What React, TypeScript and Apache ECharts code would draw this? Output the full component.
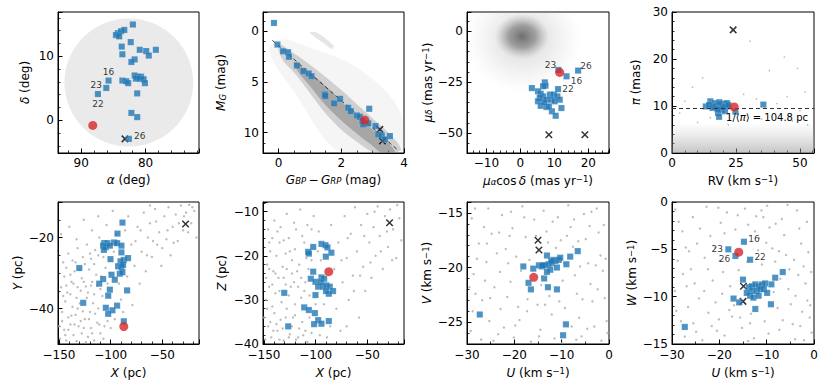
import React, { useEffect, useRef } from 'react';
import * as echarts from 'echarts';

// ---------------- DATA ----------------
// Panel 1: alpha / delta (deg)
const p1Members = [[81.97,14.95],[84.3,13.6],[83.8,13.9],[83.3,14.1],[84.6,13.3],[84.1,13.1],[82.3,12.2],[83.7,11.5],[80.9,11.0],[79.9,10.8],[78.4,11.0],[79.5,10.1],[83.6,10.3],[81.7,9.5],[82.2,9.1],[81.7,7.0],[81.2,6.8],[80.7,6.8],[81.5,6.5],[80.9,6.5],[80.3,6.4],[80.1,5.8],[83.6,6.2],[83.0,6.1],[82.7,5.8],[81.3,4.2],[82.2,1.15],[81.3,0.5]];
const p1Labeled = [[85.75,6.2,'16'],[86.1,5.05,'23'],[87.4,4.1,'22'],[82.6,-2.9,'26']];
const p1Red = [[88.2,-0.8]];
const p1Cross = [[83.2,-2.9]];
const p1FieldCircle = [[82.6,5.9,10,10]]; // centre alpha, delta, radius alpha, radius delta

// Panel 2: colour-magnitude diagram
const p2Members = [[-0.15,-0.82],[-0.04,1.31],[0.14,1.97],[0.30,2.07],[0.33,2.52],[0.58,3.38],[0.79,3.93],[0.96,4.16],[1.05,4.43],[1.47,6.23],[1.49,6.39],[1.77,7.11],[1.96,6.66],[2.22,7.54],[2.30,7.87],[2.50,8.30],[2.59,8.43],[2.67,8.85],[2.70,9.18],[2.86,9.08],[2.89,7.64],[3.09,9.34],[3.18,10.16],[3.29,10.26],[3.55,10.33],[3.39,10.66]];
const p2Red = [[2.75,8.75]];
const p2Cross = [[3.23,9.67],[3.31,10.82]];
const p2Isochrone = [[-0.2,0.9],[3.8,11.7]];
const p2FieldHalo = [[0.0,0.8],[1.0,1.6],[2.5,3.6],[3.8,7.5],[3.95,12],[2.0,12],[0.5,6],[-0.3,2]];
const p2FieldOuter = [[0.0,1.3],[0.5,2.2],[1.0,3.3],[1.5,4.5],[2.0,5.8],[2.5,7.2],[3.0,8.6],[3.5,10.0],[3.9,11.6],[3.6,12.0],[3.0,11.9],[2.5,10.9],[2.0,9.7],[1.5,8.1],[1.0,6.1],[0.5,4.1],[0.1,2.7]];
const p2FieldInner = [[0.5,3.0],[1.0,4.1],[1.5,5.4],[2.0,6.9],[2.5,8.4],[3.0,9.7],[3.5,11.0],[3.7,11.95],[3.3,12.0],[3.0,11.3],[2.5,10.1],[2.0,8.8],[1.5,7.3],[1.0,5.4],[0.6,3.9]];
const p2FieldGiants = [[1.0,0.15],[1.2,0.1],[1.75,1.4],[1.7,1.75],[1.45,1.2]];

// Panel 3: proper motions (mas/yr)
const p3Members = [[3.4,-27.9],[7.2,-25.1],[7.4,-26.7],[6.7,-27.0],[5.2,-29.5],[6.0,-30.7],[6.7,-32.0],[5.7,-32.8],[8.7,-31.1],[9.9,-31.1],[10.9,-32.0],[11.6,-33.6],[7.7,-33.6],[9.1,-33.6],[10.1,-34.4],[5.2,-34.4],[6.0,-36.6],[7.7,-37.2],[9.3,-39.3],[10.4,-41.5],[12.1,-37.7],[8.4,-36.9],[7.0,-34.9]];
const p3Labeled = [[11.2,-19.0,'23'],[13.6,-22.1,'16'],[17.0,-19.3,'26'],[11.1,-28.4,'22']];
const p3Red = [[11.6,-20.2]];
const p3Cross = [[8.4,-50.8],[19.0,-50.8]];
const p3FieldBlobs = [[1.0,-4.0,17,26],[0.5,-2.5,8,11]]; // centre x, y, radius x, radius y

// Panel 4: parallax vs RV
const p4Members = [[13.2,9.9],[15.0,11.0],[16.7,10.6],[17.4,10.1],[15.8,9.6],[18.9,9.6],[19.2,10.3],[20.5,10.5],[21.5,10.6],[19.4,9.2],[18.0,8.5],[18.4,7.7],[21.3,9.9],[20.7,8.9],[24.8,8.8],[35.7,10.3],[16.5,9.8],[17.8,9.3],[20.0,9.8],[22.0,10.2],[18.5,10.8],[14.5,10.2]];
const p4Red = [[24.3,9.8]];
const p4Cross = [[23.9,26.2]];
const p4MeanDistancePc = 104.8;
const p4FieldSparse = [[30.5,23.8],[43.9,20.4],[49,18],[38,17.5],[12,16],[8,14],[52,13],[45,12],[28,12.5],[5,11],[33,11.5],[41,10.5],[50,9],[3,8.5],[15,7.5],[27,7],[35,7.2],[47,6.8],[10,6.5],[53,6],[22,6]];
const p4FieldBand = [[0,0],[55.5,0],[55.5,6.5],[0,6.5]];

// Panel 5: X / Y (pc)
const p5Members = [[-88.6,-15.8],[-93.4,-18.9],[-106.3,-21.6],[-103.1,-21.6],[-96.7,-21.4],[-93.8,-21.6],[-107.3,-22.3],[-104.7,-22.7],[-100.8,-22.3],[-89.6,-22.3],[-106.6,-23.5],[-89.6,-24.2],[-100.2,-26.1],[-87.3,-26.3],[-83.2,-25.8],[-90.5,-26.7],[-92.8,-28.1],[-89.6,-28.3],[-88.0,-27.7],[-91.2,-30.2],[-88.6,-29.8],[-130.4,-28.6],[-99.2,-30.5],[-96.0,-31.9],[-107.3,-31.7],[-111.1,-33.0],[-100.8,-34.7],[-84.1,-34.9],[-102.4,-36.4],[-93.8,-39.2],[-104.7,-39.8],[-98.3,-40.5],[-102.4,-41.5],[-87.3,-43.6],[-126.6,-38.4]];
const p5Red = [[-87.3,-45.1]];
const p5Cross = [[-27.5,-16.2]];
const p5Field = [[-149,-48.5],[-145,-46],[-143,-49],[-139,-44.5],[-136,-47.5],[-133,-49.2],[-131,-45],[-128,-47],[-125,-43],[-122,-48],[-119,-45.5],[-116,-49],[-113,-44],[-110,-47],[-106,-45],[-147,-41],[-144,-38],[-141,-42.5],[-137,-39.5],[-134,-41.8],[-130,-38.5],[-127,-40.8],[-123,-37],[-120,-41],[-117,-38.5],[-112,-40],[-108,-36.5],[-148,-34],[-145,-31],[-142,-35.5],[-138,-32.5],[-135,-29.5],[-132,-34],[-128,-31.5],[-124,-33.8],[-121,-29],[-118,-32.5],[-114,-30.5],[-110,-34.5],[-105,-28.5],[-146,-27],[-141,-24.5],[-137,-26.5],[-132,-23],[-127,-25.5],[-123,-22],[-119,-26],[-115,-23.5],[-111,-20],[-107,-25.5],[-148,-19],[-140,-17],[-133,-20.5],[-126,-15],[-118,-18],[-112,-14],[-104,-16.5],[-98,-12.5],[-95,-19],[-92,-33],[-90,-37.5],[-96,-43],[-84,-31],[-80,-22],[-79,-39],[-77,-28],[-74,-17],[-72,-33],[-70,-24],[-68,-13],[-66,-29.5],[-64,-20],[-62,-16],[-60,-25.5],[-57,-12],[-55,-22],[-53,-18.5],[-51,-28],[-48,-14],[-46,-20.5],[-44,-11.5],[-42,-25],[-40,-17],[-37,-13.5],[-35,-21],[-32,-11],[-30,-18],[-27,-13],[-24,-10.8],[-22,-16],[-19,-12.5],[-17,-20],[-86,-18],[-83,-14],[-101,-30],[-97,-24],[-88,-41],
  [-150,-45],[-147,-43.5],[-144,-47.5],[-141,-46],[-138,-42],[-135,-44.5],[-132,-40],[-129,-43.5],[-126,-45.5],[-124,-49.5],[-121,-43],[-118,-47],[-115,-41.5],[-111,-44.5],[-107,-48.5],[-103,-43.5],[-100,-45.5],[-146,-36.5],[-143,-33.5],[-139,-36],[-136,-33],[-133,-37],[-129,-35],[-126,-32.5],[-122,-35.5],[-119,-33.5],[-116,-36],[-113,-33.5],[-109,-31],[-103,-33],[-143,-28.5],[-139,-30.5],[-134,-27],[-130,-29],[-125,-27.5],[-120,-24.5],[-116,-27.5],[-112,-25],[-108,-22.5],[-76,-21],[-71,-18],[-65,-25],[-59,-21],[-56,-15.5],[-50,-23],[-45,-18],[-39,-21.5],[-34,-16],[-29,-14],[-25,-18.5],[-21,-11.5],[-62,-11]];

// Panel 6: X / Z (pc)
const p6Members = [[-107.3,-19.1],[-106.6,-19.5],[-102.4,-18.0],[-94.4,-17.3],[-90.5,-17.6],[-88.6,-18.1],[-84.8,-19.3],[-90.2,-20.2],[-102.4,-23.6],[-104.7,-25.2],[-100.2,-25.9],[-94.4,-24.9],[-91.8,-25.2],[-97.6,-27.0],[-92.8,-27.0],[-89.6,-26.7],[-86.4,-27.0],[-83.2,-28.0],[-87.3,-28.6],[-100.2,-28.9],[-130.4,-28.4],[-111.1,-31.7],[-106.6,-32.3],[-100.8,-33.0],[-97.6,-34.6],[-101.5,-35.5],[-94.4,-35.4],[-87.3,-34.8],[-126.6,-36.0],[-95,-26],[-90,-28]];
const p6Red = [[-87.3,-23.6]];
const p6Cross = [[-28.5,-12.5]];
const p6Field = [[-149,-39],[-146,-36],[-143,-38.5],[-140,-33],[-137,-37],[-134,-34.5],[-131,-39.2],[-128,-32],[-125,-37.8],[-122,-34],[-119,-39],[-116,-36.5],[-112,-38],[-108,-39.5],[-104,-37.5],[-148,-30],[-145,-27],[-142,-31.5],[-139,-28.5],[-136,-25],[-133,-30.5],[-129,-26.5],[-126,-29],[-123,-24],[-120,-31],[-117,-27],[-114,-29.5],[-110,-26],[-106,-29],[-147,-22],[-144,-19],[-141,-23.5],[-138,-20],[-135,-17],[-132,-22.5],[-129,-19.5],[-126,-16],[-123,-21],[-120,-18.5],[-116,-22],[-113,-15.5],[-109,-20.5],[-146,-14],[-140,-12],[-134,-13.5],[-128,-10.5],[-121,-12.5],[-115,-9.5],[-108,-13],[-102,-11],[-97,-14.5],[-95,-21],[-92,-31],[-89,-38.5],[-85,-13],[-82,-23],[-80,-32],[-78,-17],[-76,-37],[-74,-26],[-72,-11],[-70,-20.5],[-68,-30],[-66,-15],[-64,-24.5],[-62,-9],[-60,-19],[-58,-34],[-56,-13],[-54,-22.5],[-52,-28],[-50,-10.5],[-48,-17],[-46,-25],[-44,-13.5],[-42,-20],[-40,-8.8],[-38,-15.5],[-35,-23],[-33,-11],[-30,-18],[-28,-9.5],[-25,-14],[-22,-20.5],[-19,-11.5],[-17,-16.5],[-100,-31],[-96,-38],
  [-150,-34],[-147,-32],[-144,-35],[-141,-37],[-138,-35.5],[-135,-39],[-132,-36.5],[-129,-34],[-126,-38.5],[-123,-36],[-120,-33.5],[-117,-38.5],[-113,-35],[-110,-37],[-106,-34],[-148,-25],[-145,-23],[-142,-26.5],[-139,-24],[-135,-28],[-131,-25],[-128,-23],[-124,-27],[-121,-26],[-118,-23.5],[-114,-25],[-111,-28],[-107,-23],[-104,-21],[-145,-17],[-142,-16],[-137,-14.5],[-131,-16.5],[-125,-19],[-119,-14],[-111,-17],[-104,-14],[-98,-19],[-75,-21],[-69,-16],[-63,-28],[-57,-24.5],[-53,-15.5],[-47,-21.5],[-43,-10],[-37,-19],[-31,-14.5],[-26,-21],[-21,-8.5],[-70,-36],[-86,-36]];

// Panel 7: U / V (km/s)
const p7Members = [[-27.3,-24.3],[-18.1,-19.9],[-16.0,-20.1],[-17.0,-21.4],[-16.5,-22.0],[-13.7,-21.0],[-12.9,-21.8],[-11.0,-22.0],[-9.0,-19.7],[-6.6,-18.5],[-8.2,-19.0],[-13.1,-18.9],[-14.8,-19.8],[-14.2,-19.9],[-13.5,-19.8],[-12.8,-19.7],[-12.1,-19.6],[-11.7,-19.3],[-11.3,-19.4],[-10.6,-19.3],[-10.3,-19.1],[-12.4,-20.2],[-13.1,-20.4],[-11.0,-20.0],[-9.1,-25.2],[-9.7,-26.2],[-14.0,-19.8],[-12.2,-19.4]];
const p7Red = [[-15.9,-20.9]];
const p7Cross = [[-15.0,-17.5],[-14.8,-18.4]];
const p7Field = [[-29,-15.5],[-27.5,-17.8],[-28.6,-20.6],[-26.8,-23],[-29.2,-25.8],[-27,-26.6],[-25.5,-14.6],[-24.8,-16.9],[-25.9,-19.5],[-24.2,-21.8],[-25.3,-24.9],[-23.4,-26.1],[-22.6,-15.2],[-21.8,-18.3],[-23,-20.4],[-21.5,-22.7],[-22.2,-25.5],[-20.4,-16.4],[-19.6,-19],[-20.8,-21.3],[-19.2,-23.6],[-20.1,-26.4],[-18.3,-14.4],[-17.6,-17.2],[-18.9,-24.8],[-17.2,-22.9],[-16.5,-26.8],[-15.8,-15.6],[-15.1,-23.4],[-14.5,-25.7],[-13.8,-14.8],[-13.2,-16.7],[-12.6,-22.6],[-12.1,-24.3],[-11.5,-26.5],[-10.8,-15.4],[-10.2,-17.5],[-9.8,-21.2],[-9.3,-23.7],[-8.6,-14.3],[-8.1,-16.3],[-7.6,-18.1],[-7.2,-20.7],[-6.8,-22.4],[-6.3,-24.6],[-5.8,-26.3],[-5.3,-15.1],[-4.9,-17.4],[-4.4,-19.6],[-3.9,-21.5],[-3.5,-23.1],[-3.1,-25.4],[-2.6,-14.6],[-2.2,-16.8],[-1.8,-18.9],[-1.3,-20.3],[-0.9,-22.8],[-0.5,-24.9],[-1.6,-26.7],[-4.1,-16.2],[-6.5,-17.6],[-11.2,-18.2],[-14.3,-21.6],[-16.8,-19.3],[-21,-17.1],[-26.2,-21.2],[-28.2,-22.4],[-23.7,-18.7],[-9.5,-19.6],[-7.9,-25.4],[-2.8,-19.8],[-12.9,-17.7],
  [-28.3,-14.6],[-26.4,-16.3],[-27.9,-19.2],[-25.1,-22.8],[-28.8,-24],[-24.4,-26.7],[-23.2,-16.8],[-22.9,-23.8],[-20.7,-14.9],[-21.3,-19.6],[-19.8,-25.3],[-18.6,-20.3],[-17.9,-15.4],[-15.4,-17.1],[-14.8,-26.3],[-13.5,-23.4],[-11.9,-15.8],[-10.5,-23.1],[-9.9,-26.9],[-8.9,-17.1],[-7.4,-15.6],[-6.1,-19.9],[-5.6,-22.9],[-4.6,-25.6],[-3.7,-14.9],[-2.4,-22],[-1.1,-16.1],[-0.7,-19.2],[-0.3,-26],[-6.9,-26.6],[-17.3,-24],[-25.8,-17.8],[-29.5,-21.8]];

// Panel 8: U / W (km/s)
const p8Members = [[-15.0,-8.2],[-6.6,-7.4],[-8.2,-8.0],[-9.0,-8.7],[-9.1,-10.8],[-12.4,-11.3],[-17.0,-10.2],[-27.3,-13.2],[-13.8,-9.0],[-13.1,-8.9],[-12.4,-8.7],[-11.7,-8.9],[-11.0,-8.7],[-10.3,-8.6],[-13.1,-9.4],[-12.1,-9.4],[-11.3,-9.2],[-10.6,-9.2],[-13.5,-9.9],[-12.8,-10.1],[-11.7,-9.9],[-14.2,-9.6],[-9.9,-9.6],[-15.8,-10.6]];
const p8Labeled = [[-14.8,-4.2,'16'],[-18.1,-5.0,'23'],[-16.6,-5.7,'26'],[-13.5,-6.1,'22']];
const p8Red = [[-15.9,-5.3]];
const p8Cross = [[-14.9,-8.9],[-15.0,-10.5]];
const p8Field = [[-29.3,-0.8],[-27.8,-3.1],[-28.8,-6.2],[-26.9,-8.9],[-29.1,-11.5],[-27.3,-14.2],[-25.6,-1.6],[-24.7,-4.4],[-26,-7.1],[-24.3,-10.2],[-25.5,-12.8],[-23.6,-14.6],[-22.7,-0.5],[-21.9,-3.6],[-23.1,-5.9],[-21.4,-8.3],[-22.3,-11.7],[-20.5,-13.6],[-19.7,-2.2],[-20.9,-4.8],[-19.2,-7.4],[-20.1,-12.4],[-18.4,-1.1],[-17.7,-8.9],[-18.9,-14.1],[-17.3,-12.1],[-16.6,-2.9],[-15.9,-7.2],[-15.2,-13.3],[-14.6,-0.7],[-13.9,-2.4],[-13.3,-11.8],[-12.7,-14.4],[-12.2,-1.5],[-11.6,-3.8],[-11,-6.6],[-10.4,-12.6],[-9.9,-0.4],[-9.4,-2.7],[-8.8,-4.9],[-8.2,-6.3],[-7.7,-11.2],[-7.3,-13.5],[-6.8,-1.8],[-6.3,-3.5],[-5.9,-5.6],[-5.4,-9.2],[-4.9,-10.8],[-4.5,-12.9],[-4,-14.5],[-3.6,-0.9],[-3.1,-2.8],[-2.7,-4.4],[-2.2,-6.8],[-1.8,-8.6],[-1.4,-10.4],[-0.9,-12.2],[-0.5,-13.8],[-1.2,-5.3],[-3.3,-7.7],[-5.2,-7.1],[-8.5,-9.5],[-11.8,-5.1],[-14.1,-6.3],[-16.9,-10.9],[-19.4,-9.7],[-23.2,-9.4],[-26.4,-5.2],[-28.1,-12.6],[-10.7,-1.6],[-7.1,-8.1],[-2.5,-11.6],[-13.5,-12.8],
  [-28.6,-2.1],[-27.1,-4.8],[-29.4,-9.4],[-26.6,-11.1],[-24.9,-13.7],[-24.1,-2.8],[-25.2,-8.6],[-22.4,-7.1],[-21.6,-13.1],[-20.2,-0.6],[-18.9,-3.3],[-19.9,-6.2],[-17.9,-11.4],[-16.1,-1.4],[-15.6,-12.2],[-13.9,-14.7],[-12.5,-3.1],[-11.1,-0.9],[-10.1,-4.3],[-9.6,-13.9],[-8.1,-2.3],[-7.4,-5.2],[-6.6,-12.5],[-5.6,-0.3],[-4.2,-6.1],[-3.9,-9.9],[-2.9,-13.1],[-1.5,-2.1],[-0.6,-7.4],[-0.8,-10.9],[-2.1,-14.6],[-20.8,-10.6],[-27.7,-7.6]];

// ---------------- STYLE ----------------
const FONT = '"DejaVu Sans", sans-serif';
const FS = 12;
const BLUE = '#1f77b4';
const RED = '#d62728';
const RICH = {
  i: { fontStyle: 'italic', fontFamily: FONT, fontSize: FS, color: '#000' },
  subi: { fontStyle: 'italic', fontFamily: FONT, fontSize: 8.5, color: '#000', verticalAlign: 'bottom' },
  sup: { fontFamily: FONT, fontSize: 8.5, color: '#000', verticalAlign: 'top' },
};
const LABEL_OFFSETS: Record<number, Record<string, number[]>> = {
  0: { '16': [0, -9], '23': [-10, -3], '22': [0, 10], '26': [11, -3] },
  2: { '23': [-8, -5], '16': [10, 5], '26': [8, -5], '22': [10, 0] },
  7: { '16': [10, -3], '23': [-11, 0], '26': [-11, 3], '22': [10, -3] },
};

function isMultiple(v: number, iv: number) {
  const r = v / iv;
  return Math.abs(r - Math.round(r)) < 1e-6;
}

function makeAxis(gi: number, s: any, isX: boolean) {
  return {
    type: 'value', gridIndex: gi, min: s.min, max: s.max,
    minInterval: s.interval, maxInterval: s.interval,
    splitNumber: Math.max(1, Math.round((s.max - s.min) / s.interval)),
    inverse: !!s.inverse, position: isX ? 'bottom' : 'left',
    axisLine: { show: true, onZero: false, lineStyle: { color: '#000', width: 1 } },
    axisTick: { show: true, inside: true, length: 4.5, lineStyle: { color: '#000', width: 1 } },
    minorTick: { show: true, splitNumber: s.minor, length: 2.5, lineStyle: { color: '#000', width: 0.8 } },
    splitLine: { show: false }, minorSplitLine: { show: false },
    axisLabel: {
      color: '#000', fontFamily: FONT, fontSize: FS,
      margin: isX ? (gi >= 4 ? 5 : 4) : 4, lineHeight: isX ? 12 : 10,
      showMinLabel: isMultiple(s.min, s.interval), showMaxLabel: isMultiple(s.max, s.interval),
      formatter: (v: number) => (v < 0 ? '\u2212' + Math.abs(v) : String(v)),
    },
    name: s.name, nameLocation: 'middle', nameGap: s.gap, nameRotate: isX ? 0 : 90,
    nameTextStyle: { color: '#000', fontFamily: FONT, fontSize: FS, rich: RICH },
  };
}

function scatter(gi: number, data: any[], kind: 'blue' | 'red' | 'cross' | 'field', size?: number) {
  const base: any = { type: 'scatter', xAxisIndex: gi, yAxisIndex: gi, silent: true, data };
  if (kind === 'blue') return { ...base, z: 4, symbol: 'rect', symbolSize: 6.2, itemStyle: { color: BLUE, borderColor: 'rgba(255,255,255,0.4)', borderWidth: 0.4 } };
  if (kind === 'red') return { ...base, z: 5, symbol: 'circle', symbolSize: 9, itemStyle: { color: RED } };
  if (kind === 'cross') return { ...base, z: 3, symbol: 'path://M0,0L10,10M10,0L0,10', symbolSize: 6.5, itemStyle: { color: 'none', borderColor: '#000', borderWidth: 1.5 } };
  return { ...base, z: 1, symbol: 'circle', symbolSize: size || 2.4, itemStyle: { color: '#ababab' } };
}

function labeledData(gi: number, pts: any[]) {
  return pts.map((p) => ({
    value: [p[0], p[1]],
    label: {
      show: true, formatter: p[2], position: 'inside', offset: LABEL_OFFSETS[gi][p[2]],
      color: '#000', fontFamily: FONT, fontSize: 9,
    },
  }));
}

function ellipseSeries(gi: number, items: number[][], fills: any[]) {
  return {
    type: 'custom', xAxisIndex: gi, yAxisIndex: gi, z: 1, silent: true, clip: true,
    data: items,
    renderItem: (params: any, api: any) => {
      const c = api.coord([api.value(0), api.value(1)]);
      const s = api.size([api.value(2), api.value(3)]);
      return { type: 'ellipse', shape: { cx: c[0], cy: c[1], rx: Math.abs(s[0]), ry: Math.abs(s[1]) }, style: { fill: fills[params.dataIndex] } };
    },
  };
}

function polySeries(gi: number, polys: number[][][], fills: any[], smooth: number) {
  return {
    type: 'custom', xAxisIndex: gi, yAxisIndex: gi, z: 1, silent: true, clip: true,
    data: polys.map((p, i) => [p[0][0], p[0][1], i]),
    renderItem: (params: any, api: any) => {
      const poly = polys[params.dataIndex];
      return { type: 'polygon', shape: { points: poly.map((q) => api.coord(q)), smooth }, style: { fill: fills[params.dataIndex] } };
    },
  };
}

const radial = (c0: string, c1: string, c2: string) => ({
  type: 'radial', x: 0.5, y: 0.5, r: 0.5,
  colorStops: [{ offset: 0, color: c0 }, { offset: 0.5, color: c1 }, { offset: 1, color: c2 }],
});

const PANELS = [
  { grid: [58, 12, 141, 141],
    x: { min: 71.7, max: 93.6, interval: 10, minor: 5, inverse: true, name: '{i|α} (deg)', gap: 20.5 },
    y: { min: -5.1, max: 16.9, interval: 10, minor: 5, name: '{i|δ} (deg)', gap: 27 } },
  { grid: [263, 12, 141, 141],
    x: { min: -0.5, max: 4.0, interval: 2, minor: 4, name: '{i|G}{subi|BP}\u2009\u2212\u2009{i|G}{subi|RP} (mag)', gap: 20.5 },
    y: { min: -1.9, max: 12, interval: 5, minor: 5, inverse: true, name: '{i|M}{subi|G} (mag)', gap: 36 } },
  { grid: [467, 12, 142, 141],
    x: { min: -15.7, max: 26.1, interval: 10, minor: 5, name: '{i|μ}{subi|α}cos\u2009{i|δ} (mas yr{sup|\u22121})', gap: 21.5 },
    y: { min: -59.8, max: 9.5, interval: 25, minor: 5, name: '{i|μ}{subi|δ} (mas yr{sup|\u22121})', gap: 32 } },
  { grid: [672, 12, 142, 141],
    x: { min: 0, max: 55.5, interval: 25, minor: 5, name: 'RV (km s{sup|\u22121})', gap: 21.5 },
    y: { min: 0, max: 30, interval: 10, minor: 5, name: '{i|π} (mas)', gap: 30 } },
  { grid: [58, 202, 141, 142],
    x: { min: -151, max: -14.5, interval: 50, minor: 5, name: '{i|X} (pc)', gap: 22.5 },
    y: { min: -50, max: -10, interval: 20, minor: 4, name: '{i|Y} (pc)', gap: 34 } },
  { grid: [263, 202, 141, 142],
    x: { min: -151, max: -14.5, interval: 50, minor: 5, name: '{i|X} (pc)', gap: 22.5 },
    y: { min: -40, max: -7.8, interval: 10, minor: 5, name: '{i|Z} (pc)', gap: 35 } },
  { grid: [467, 202, 142, 142],
    x: { min: -30, max: 0, interval: 10, minor: 2, name: '{i|U} (km s{sup|\u22121})', gap: 22.5 },
    y: { min: -27, max: -14, interval: 5, minor: 5, name: '{i|V} (km s{sup|\u22121})', gap: 34 } },
  { grid: [672, 202, 142, 142],
    x: { min: -30, max: 0, interval: 10, minor: 2, name: '{i|U} (km s{sup|\u22121})', gap: 22.5 },
    y: { min: -15, max: 0, interval: 5, minor: 5, name: '{i|W} (km s{sup|\u22121})', gap: 34 } },
];

function buildOption() {
  const grid = PANELS.map((p) => ({
    left: p.grid[0], top: p.grid[1], width: p.grid[2], height: p.grid[3],
    show: true, borderColor: '#000', borderWidth: 1, backgroundColor: 'transparent',
    containLabel: false, outerBoundsMode: 'none',
  }));
  const xAxis = PANELS.map((p, i) => makeAxis(i, p.x, true));
  const yAxis = PANELS.map((p, i) => makeAxis(i, p.y, false));

  const series: any[] = [
    // Panel 1
    ellipseSeries(0, p1FieldCircle, ['#eaeaea']),
    scatter(0, p1Cross, 'cross'),
    scatter(0, [...p1Members, ...labeledData(0, p1Labeled)], 'blue'),
    scatter(0, p1Red, 'red'),
    // Panel 2
    polySeries(1, [p2FieldHalo, p2FieldOuter, p2FieldInner, p2FieldGiants],
      ['rgba(175,175,175,0.13)', 'rgba(140,140,140,0.35)', 'rgba(115,115,115,0.45)', 'rgba(165,165,165,0.28)'], 0.35),
    { type: 'line', xAxisIndex: 1, yAxisIndex: 1, z: 2, silent: true, data: p2Isochrone, showSymbol: false,
      lineStyle: { type: [4, 3], color: '#333', width: 1 } },
    scatter(1, p2Cross, 'cross'),
    scatter(1, p2Members, 'blue'),
    scatter(1, p2Red, 'red'),
    // Panel 3
    ellipseSeries(2, p3FieldBlobs, [
      radial('rgba(165,165,165,0.45)', 'rgba(180,180,180,0.25)', 'rgba(200,200,200,0)'),
      radial('rgba(105,105,105,0.95)', 'rgba(130,130,130,0.7)', 'rgba(170,170,170,0)'),
    ]),
    scatter(2, p3Cross, 'cross'),
    scatter(2, [...p3Members, ...labeledData(2, p3Labeled)], 'blue'),
    scatter(2, p3Red, 'red'),
    // Panel 4
    polySeries(3, [p4FieldBand], [{
      type: 'linear', x: 0, y: 0, x2: 0, y2: 1,
      colorStops: [{ offset: 0, color: 'rgba(185,185,185,0)' }, { offset: 1, color: 'rgba(150,150,150,0.55)' }],
    }], 0),
    scatter(3, p4FieldSparse, 'field', 1.6),
    scatter(3, p4Cross, 'cross'),
    { ...scatter(3, p4Members, 'blue'),
      markLine: {
        silent: true, symbol: 'none', animation: false,
        data: [{ yAxis: 1000 / p4MeanDistancePc }],
        lineStyle: { type: [4, 3], color: '#333', width: 1.2 },
        label: {
          show: true, position: 'insideEndBottom', distance: [6, 4],
          formatter: '1/⟨{i|π}⟩ = ' + p4MeanDistancePc + ' pc',
          color: '#000', fontFamily: FONT, fontSize: 10,
          rich: { i: { fontStyle: 'italic', fontFamily: FONT, fontSize: 10, color: '#000' } },
        },
      } },
    scatter(3, p4Red, 'red'),
    // Panel 5
    scatter(4, p5Field, 'field'),
    scatter(4, p5Cross, 'cross'),
    scatter(4, p5Members, 'blue'),
    scatter(4, p5Red, 'red'),
    // Panel 6
    scatter(5, p6Field, 'field'),
    scatter(5, p6Cross, 'cross'),
    scatter(5, p6Members, 'blue'),
    scatter(5, p6Red, 'red'),
    // Panel 7
    scatter(6, p7Field, 'field'),
    scatter(6, p7Cross, 'cross'),
    scatter(6, p7Members, 'blue'),
    scatter(6, p7Red, 'red'),
    // Panel 8
    scatter(7, p8Field, 'field'),
    scatter(7, p8Cross, 'cross'),
    scatter(7, [...p8Members, ...labeledData(7, p8Labeled)], 'blue'),
    scatter(7, p8Red, 'red'),
  ];

  return { animation: false, backgroundColor: '#fff', grid, xAxis, yAxis, series };
}

export default function App() {
  const ref = useRef<HTMLDivElement>(null);
  useEffect(() => {
    if (!ref.current) return;
    const chart = echarts.init(ref.current, undefined, { renderer: 'svg' });
    chart.setOption(buildOption() as any);
    return () => chart.dispose();
  }, []);
  return <div ref={ref} style={{ position: 'absolute', left: 0, top: 0, width: 830, height: 383, background: '#fff' }} />;
}
